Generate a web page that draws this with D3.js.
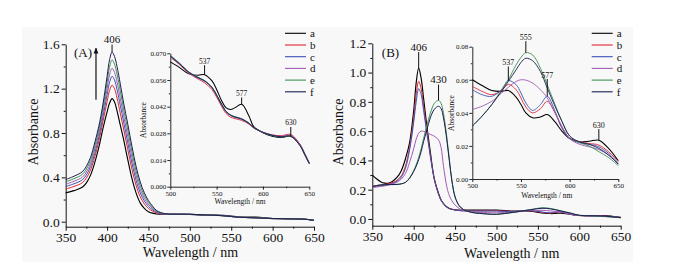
<!DOCTYPE html>
<html>
<head>
<meta charset="utf-8">
<script src="https://cdn.jsdelivr.net/npm/d3@7"></script>
<style>
body { margin: 0; background: #fff; }
</style>
</head>
<body>
<div id="chart_wrapper"></div>
<script>
var series = ["a", "b", "c", "d", "e", "f"];
var colors = ["#000000", "#e0262c", "#3a52b4", "#a15ab6", "#3f9152", "#1c1c52"];
var serif = "'Liberation Serif', 'DejaVu Serif', 'Times New Roman', serif";

// (A) main spectra
var wlA = [350,360,370,375,380,385,390,395,400,403,406,409,412,416,420,425,430,435,440,445,450,455,460,470,480,500,520,540,560,580,600,620,640,650];
var mainA = [
  [0.26,0.28,0.31,0.35,0.42,0.53,0.67,0.84,0.99,1.07,1.11,1.08,1.00,0.87,0.74,0.56,0.39,0.26,0.17,0.12,0.09,0.077,0.07,0.067,0.066,0.065,0.059,0.058,0.042,0.042,0.028,0.026,0.022,0.012],
  [0.295,0.318,0.351,0.394,0.466,0.582,0.725,0.904,1.083,1.183,1.232,1.199,1.116,0.977,0.836,0.653,0.474,0.33,0.225,0.161,0.119,0.095,0.079,0.068,0.068,0.067,0.061,0.054,0.040,0.035,0.029,0.026,0.022,0.012],
  [0.318,0.342,0.377,0.422,0.497,0.616,0.761,0.946,1.144,1.257,1.312,1.277,1.192,1.048,0.898,0.714,0.529,0.375,0.261,0.187,0.138,0.107,0.084,0.069,0.068,0.067,0.061,0.054,0.040,0.035,0.029,0.026,0.022,0.012],
  [0.338,0.365,0.401,0.448,0.524,0.647,0.794,0.983,1.198,1.324,1.383,1.347,1.26,1.111,0.955,0.768,0.579,0.416,0.294,0.211,0.155,0.118,0.09,0.07,0.068,0.067,0.061,0.054,0.040,0.035,0.029,0.026,0.022,0.012],
  [0.36,0.388,0.426,0.475,0.553,0.679,0.828,1.023,1.256,1.394,1.459,1.42,1.332,1.177,1.014,0.826,0.631,0.459,0.328,0.236,0.173,0.129,0.095,0.071,0.068,0.067,0.061,0.054,0.040,0.035,0.029,0.026,0.022,0.012],
  [0.38,0.41,0.45,0.50,0.58,0.71,0.86,1.06,1.31,1.46,1.53,1.49,1.40,1.24,1.07,0.88,0.68,0.50,0.36,0.26,0.19,0.14,0.10,0.072,0.068,0.067,0.061,0.054,0.040,0.035,0.029,0.026,0.022,0.012]
];

// (A) inset
var wlAi = [500,510,520,530,537,545,550,555,560,565,570,577,585,590,600,610,620,630,640,645,650];
var insetA = [
  [0.0655,0.0625,0.0592,0.0585,0.0588,0.0555,0.051,0.0455,0.0415,0.0405,0.0415,0.0432,0.037,0.0315,0.0283,0.0265,0.0258,0.0265,0.022,0.017,0.0122],
  [0.068,0.064,0.0595,0.0565,0.0545,0.051,0.047,0.0425,0.0385,0.0365,0.0357,0.0348,0.0328,0.0308,0.0286,0.0272,0.0268,0.0274,0.0222,0.0175,0.0125],
  [0.0688,0.0647,0.0601,0.0573,0.0556,0.0521,0.0481,0.0436,0.0396,0.0376,0.0366,0.0356,0.0333,0.031,0.0284,0.0269,0.0262,0.0267,0.0218,0.0172,0.0123],
  [0.0682,0.0643,0.0598,0.057,0.0553,0.0518,0.0478,0.0433,0.0393,0.0373,0.0363,0.0353,0.0331,0.0309,0.0285,0.027,0.0265,0.027,0.022,0.0173,0.0124],
  [0.069,0.0648,0.0602,0.0574,0.0557,0.0522,0.0482,0.0437,0.0397,0.0377,0.0367,0.0357,0.0334,0.0311,0.0285,0.0269,0.0261,0.0264,0.0215,0.0169,0.0121],
  [0.0685,0.0645,0.06,0.0572,0.0555,0.052,0.048,0.0435,0.0395,0.0375,0.0365,0.0355,0.0332,0.031,0.0285,0.027,0.0262,0.0265,0.0215,0.017,0.0122]
];

// (B) main spectra
var wlB = [350,355,360,365,370,375,380,385,390,395,400,403,406,409,412,416,420,425,430,433,436,440,443,446,450,455,460,470,480,500,520,540,555,565,577,590,600,615,630,650];
var mainB = [
  [0.30,0.275,0.255,0.245,0.245,0.26,0.285,0.33,0.41,0.52,0.74,0.93,1.03,0.96,0.82,0.63,0.46,0.27,0.175,0.13,0.105,0.082,0.072,0.066,0.062,0.06,0.06,0.06,0.06,0.06,0.054,0.053,0.041,0.037,0.039,0.031,0.024,0.023,0.0235,0.011],
  [0.225,0.228,0.232,0.236,0.242,0.25,0.265,0.295,0.36,0.49,0.69,0.85,0.94,0.89,0.77,0.60,0.44,0.27,0.17,0.13,0.105,0.083,0.073,0.067,0.062,0.058,0.056,0.055,0.055,0.056,0.052,0.058,0.045,0.04,0.047,0.031,0.023,0.022,0.021,0.010],
  [0.22,0.222,0.226,0.23,0.236,0.244,0.258,0.285,0.345,0.47,0.66,0.80,0.89,0.85,0.74,0.58,0.43,0.27,0.17,0.13,0.105,0.083,0.072,0.066,0.061,0.057,0.055,0.054,0.054,0.054,0.051,0.059,0.047,0.042,0.05,0.031,0.024,0.021,0.0195,0.009],
  [0.215,0.218,0.222,0.226,0.232,0.24,0.252,0.272,0.31,0.385,0.48,0.545,0.585,0.60,0.598,0.59,0.578,0.565,0.54,0.49,0.36,0.22,0.16,0.125,0.095,0.072,0.058,0.048,0.045,0.042,0.047,0.056,0.059,0.055,0.048,0.033,0.023,0.02,0.0175,0.009],
  [0.22,0.228,0.232,0.234,0.235,0.235,0.236,0.24,0.25,0.28,0.33,0.37,0.42,0.48,0.55,0.64,0.72,0.79,0.81,0.79,0.72,0.56,0.41,0.27,0.15,0.09,0.065,0.045,0.038,0.032,0.045,0.063,0.0764,0.072,0.057,0.039,0.025,0.021,0.0165,0.008],
  [0.22,0.228,0.232,0.234,0.235,0.235,0.236,0.24,0.25,0.278,0.325,0.36,0.405,0.46,0.53,0.61,0.69,0.75,0.77,0.755,0.69,0.54,0.40,0.265,0.15,0.09,0.065,0.045,0.038,0.032,0.045,0.062,0.073,0.069,0.055,0.039,0.025,0.022,0.0195,0.009]
];

// (B) inset
var wlBi = [500,510,520,530,537,545,550,555,562,570,577,585,592,600,610,620,630,640,650];
var insetB = [
  [0.060,0.0565,0.0535,0.053,0.0535,0.0495,0.045,0.040,0.037,0.0375,0.039,0.0345,0.029,0.0245,0.0225,0.0228,0.0235,0.0185,0.011],
  [0.056,0.053,0.051,0.0535,0.0572,0.054,0.049,0.0435,0.040,0.0425,0.047,0.040,0.031,0.0245,0.0225,0.0215,0.0205,0.0165,0.0105],
  [0.054,0.051,0.050,0.054,0.0595,0.057,0.052,0.046,0.0415,0.045,0.050,0.041,0.031,0.0245,0.022,0.021,0.0195,0.0155,0.0095],
  [0.042,0.044,0.047,0.052,0.0555,0.059,0.060,0.0598,0.058,0.054,0.049,0.040,0.032,0.0245,0.021,0.0195,0.0178,0.0145,0.0088],
  [0.032,0.038,0.045,0.054,0.060,0.069,0.0735,0.0764,0.075,0.067,0.057,0.045,0.035,0.026,0.022,0.020,0.0165,0.013,0.008],
  [0.032,0.038,0.045,0.053,0.059,0.066,0.0705,0.073,0.0715,0.065,0.055,0.044,0.035,0.026,0.0225,0.021,0.0185,0.0145,0.009]
];

// tick values
var mainXTicks = [350,400,450,500,550,600,650];
var mainXMinor = [375,425,475,525,575,625];
var mainAYTicks = [0,0.4,0.8,1.2,1.6];
var mainAYMinor = [0.2,0.6,1.0,1.4];
var mainBYTicks = [0,0.2,0.4,0.6,0.8,1.0,1.2];
var mainBYMinor = [0.1,0.3,0.5,0.7,0.9,1.1];
var insetXTicks = [500,550,600,650];
var insetXMinor = [525,575,625];
var insetAYTicks = [0,0.014,0.028,0.042,0.056,0.070];
var insetAYMinor = [0.007,0.021,0.035,0.049,0.063];
var insetBYTicks = [0,0.02,0.04,0.06,0.08];
var insetBYMinor = [0.01,0.03,0.05,0.07];

// peak labels: [wavelength, value at marker, label]
var peaksA = [[406, 1.53, "406"]];
var peaksB = [[406, 1.03, "406"], [430, 0.81, "430"]];
var peaksAi = [[537, 0.0588, "537"], [577, 0.0432, "577"], [630, 0.0265, "630"]];
var peaksBi = [[555, 0.0764, "555"], [537, 0.0595, "537"], [577, 0.050, "577"], [630, 0.0235, "630"]];

var svg = d3.select("#chart_wrapper").append("svg")
    .attr("width", 677).attr("height", 267)
    .attr("font-family", serif);

svg.append("rect").attr("x", 22).attr("y", 27).attr("width", 611).attr("height", 235).attr("fill", "#f8f8f8");

function axes(g, x, y, o) {
    var yBase = y.range()[0];
    var xl = x.range()[0];
    var ax = g.append("g").attr("transform", "translate(0," + yBase + ")")
        .call(d3.axisBottom(x).tickValues(o.xTicks).tickSize(o.tick).tickSizeOuter(0).tickPadding(o.pad).tickFormat(d3.format("d")));
    g.append("g").attr("transform", "translate(0," + yBase + ")")
        .call(d3.axisBottom(x).tickValues(o.xMinor).tickSize(o.tick / 2).tickFormat(""))
        .select(".domain").remove();
    var ay = g.append("g").attr("transform", "translate(" + xl + ",0)")
        .call(d3.axisLeft(y).tickValues(o.yTicks).tickSize(o.tick).tickSizeOuter(0).tickPadding(o.pad).tickFormat(d3.format(o.yFmt)));
    g.append("g").attr("transform", "translate(" + xl + ",0)")
        .call(d3.axisLeft(y).tickValues(o.yMinor).tickSize(o.tick / 2).tickFormat(""))
        .select(".domain").remove();
    g.selectAll(".domain, .tick line").attr("stroke", "#111").attr("stroke-width", o.sw);
    [ax, ay].forEach(function(a) {
        a.attr("font-family", serif).attr("font-size", o.font);
        a.selectAll("text").attr("font-family", serif).attr("fill", "#111");
    });
}

function spectra(g, x, y, wl, data, sw) {
    var line = d3.line()
        .x(function(d, i) { return x(wl[i]); })
        .y(function(d) { return y(d); })
        .curve(d3.curveCatmullRom.alpha(0.5));
    data.forEach(function(vals, k) {
        g.append("path").attr("d", line(vals)).attr("fill", "none")
            .attr("stroke", colors[k]).attr("stroke-width", k == 0 ? sw * 1.15 : sw);
    });
}

function peakMarks(g, x, y, peaks, gap, fs) {
    peaks.forEach(function(p, i) {
        var px = x(p[0]), py = y(p[1]);
        var gp = gap[i];
        g.append("line").attr("x1", px).attr("x2", px).attr("y1", py - gp + 1.5).attr("y2", py)
            .attr("stroke", "#111").attr("stroke-width", 1);
        g.append("text").attr("x", px).attr("y", py - gp).attr("text-anchor", "middle")
            .attr("font-family", serif).attr("fill", "#111").attr("font-size", fs).text(p[2]);
    });
}

function legend(g, x0, y0) {
    series.forEach(function(s, i) {
        var yy = y0 + i * 11.7;
        g.append("line").attr("x1", x0).attr("x2", x0 + 21).attr("y1", yy).attr("y2", yy)
            .attr("stroke", colors[i]).attr("stroke-width", 1.1);
        g.append("text").attr("x", x0 + 25).attr("y", yy).attr("dy", "0.35em")
            .attr("font-family", serif).attr("fill", "#111").attr("font-size", 11).text(s);
    });
}

function title(g, x, y, txt, fs, rot) {
    g.append("text").attr("transform", "translate(" + x + "," + y + ")" + (rot ? " rotate(-90)" : ""))
        .attr("text-anchor", "middle").attr("dy", "0.35em")
        .attr("font-family", serif).attr("fill", "#111").attr("font-size", fs).text(txt);
}

// ---------- panel A ----------
var gA = svg.append("g");
var xA = d3.scaleLinear().domain([350, 650]).range([65.7, 314]);
var yA = d3.scaleLinear().domain([-0.045, 1.6]).range([226.7, 44.3]);
axes(gA, xA, yA, {xTicks: mainXTicks, xMinor: mainXMinor, yTicks: mainAYTicks, yMinor: mainAYMinor, yFmt: ".1f", tick: 4, pad: 2, font: 13.5, sw: 1});
spectra(gA, xA, yA, wlA, mainA, 1);
peakMarks(gA, xA, yA, peaksA, [9], 11);
title(gA, 190.5, 252, "Wavelength / nm", 14, false);
title(gA, 33, 132, "Absorbance", 14, true);
gA.append("text").attr("x", xA(360)).attr("y", yA(1.486))
    .attr("font-family", serif).attr("fill", "#111").attr("font-size", 13).text("(A)");

svg.append("defs").append("marker").attr("id", "head").attr("viewBox", "0 0 10 10")
    .attr("refX", 9).attr("refY", 5).attr("markerWidth", 5).attr("markerHeight", 6).attr("orient", "auto")
    .append("path").attr("d", "M0,1 L10,5 L0,9 Z").attr("fill", "#111");
gA.append("line").attr("x1", xA(386.6)).attr("x2", xA(386.6)).attr("y1", yA(1.10)).attr("y2", yA(1.565))
    .attr("stroke", "#111").attr("stroke-width", 1.2).attr("marker-end", "url(#head)");

var gAi = svg.append("g");
var xAi = d3.scaleLinear().domain([500, 650]).range([170.3, 309.3]);
var yAi = d3.scaleLinear().domain([0, 0.070]).range([186.7, 53.3]);
axes(gAi, xAi, yAi, {xTicks: insetXTicks, xMinor: insetXMinor, yTicks: insetAYTicks, yMinor: insetAYMinor, yFmt: ".3f", tick: 3, pad: 1, font: 7, sw: 0.9});
spectra(gAi, xAi, yAi, wlAi, insetA, 0.9);
peakMarks(gAi, xAi, yAi, peaksAi, [11, 8.4, 10.7], 7.5);
title(gAi, 240, 201.7, "Wavelength / nm", 7.5, false);
title(gAi, 143, 120, "Absorbance", 7.5, true);
legend(gA, 285, 33.3);

// ---------- panel B ----------
var gB = svg.append("g");
var xB = d3.scaleLinear().domain([350, 650]).range([372.3, 620.7]);
var yB = d3.scaleLinear().domain([-0.046, 1.2]).range([225.7, 43.3]);
axes(gB, xB, yB, {xTicks: mainXTicks, xMinor: mainXMinor, yTicks: mainBYTicks, yMinor: mainBYMinor, yFmt: ".1f", tick: 4, pad: 2, font: 13.5, sw: 1});
spectra(gB, xB, yB, wlB, mainB, 1);
peakMarks(gB, xB, yB, peaksB, [17.6, 17.3], 11);
title(gB, 511.7, 252.7, "Wavelength / nm", 14, false);
title(gB, 338.5, 132, "Absorbance", 14, true);
gB.append("text").attr("x", xB(361.5)).attr("y", yB(1.105))
    .attr("font-family", serif).attr("fill", "#111").attr("font-size", 13).text("(B)");

var gBi = svg.append("g");
var xBi = d3.scaleLinear().domain([500, 650]).range([472.3, 618.3]);
var yBi = d3.scaleLinear().domain([0, 0.08]).range([179, 46.7]);
axes(gBi, xBi, yBi, {xTicks: insetXTicks, xMinor: insetXMinor, yTicks: insetBYTicks, yMinor: insetBYMinor, yFmt: ".2f", tick: 3, pad: 1, font: 7, sw: 0.9});
spectra(gBi, xBi, yBi, wlBi, insetB, 0.9);
peakMarks(gBi, xBi, yBi, peaksBi, [13, 15.6, 18.8, 12.6], 8);
title(gBi, 546.7, 195, "Wavelength / nm", 7.5, false);
title(gBi, 451, 113, "Absorbance", 7.5, true);
legend(gB, 591.7, 33.3);
</script>
</body>
</html>
